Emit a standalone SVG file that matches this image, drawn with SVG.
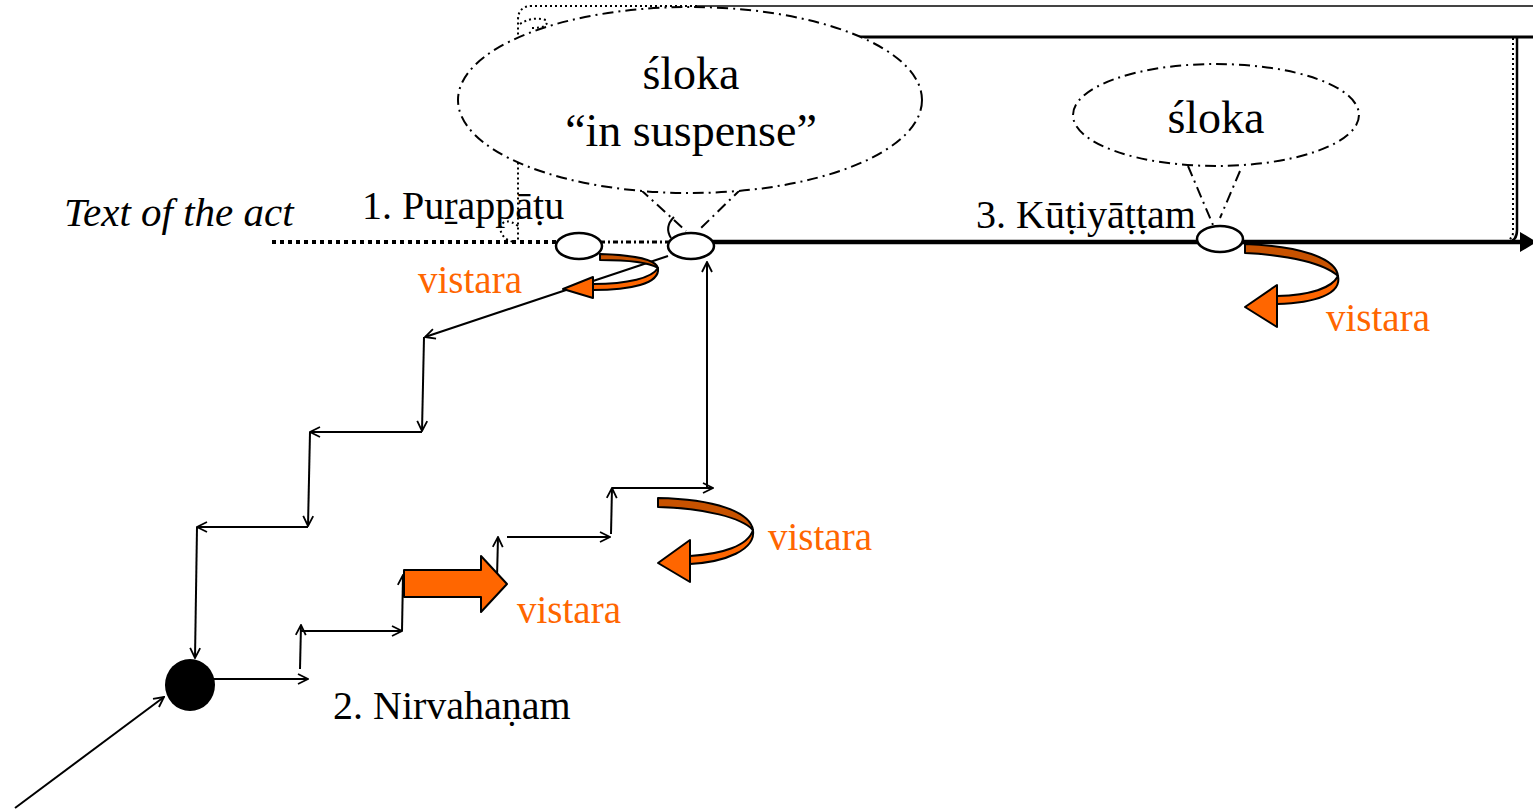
<svg xmlns="http://www.w3.org/2000/svg" width="1533" height="811" viewBox="0 0 1533 811">
<defs>
<marker id="arr" viewBox="0 0 12 12" refX="11" refY="6" markerWidth="12" markerHeight="12" markerUnits="userSpaceOnUse" orient="auto">
<path d="M1,1 L11,6 L1,11" fill="none" stroke="#000" stroke-width="1.8"/>
</marker>
</defs>
<style>
.t{font-family:"Liberation Serif","Times New Roman",serif;fill:#000}
.v{font-family:"Liberation Serif","Times New Roman",serif;fill:#FF6600;font-size:39px}
.c{fill:none;stroke:#000;stroke-width:2;marker-end:url(#arr)}
.bub{fill:#fff;stroke:#000;stroke-width:2;stroke-dasharray:11 5 2 5}
.node{fill:#fff;stroke:#000;stroke-width:2.5}
.dk{fill:#C85200;stroke:#000;stroke-width:2;stroke-linejoin:round}
.lt{fill:#FF6600;stroke:#000;stroke-width:2;stroke-linejoin:round}
.dot{fill:none;stroke:#000;stroke-width:2;stroke-dasharray:2 3}
</style>
<rect width="1533" height="811" fill="#fff"/>

<g id="frame">
<line x1="697" y1="6" x2="1533" y2="6" stroke="#444" stroke-width="2"/>
<line x1="858" y1="37" x2="1533" y2="37" stroke="#000" stroke-width="3"/>
<path d="M1517,37 V230 Q1517,241 1508,242" fill="none" stroke="#000" stroke-width="2.5"/>
<path d="M1513,38 V232 Q1513,238 1508,240" class="dot"/>
<path d="M697,6 H532 Q518,6 518,20 V240" class="dot"/>
<path d="M520,24 Q532,16 546,20 Q550,28 532,28" class="dot"/>
<path d="M518,226 Q504,216 500,228 Q502,240 514,242" class="dot"/>
</g>

<g id="timeline">
<line x1="272" y1="242" x2="558" y2="242" stroke="#000" stroke-width="4" stroke-dasharray="4 4"/>
<line x1="600" y1="242" x2="670" y2="242" stroke="#000" stroke-width="3" stroke-dasharray="5 3 2 3"/>
<line x1="712" y1="242" x2="1522" y2="242" stroke="#000" stroke-width="4.5"/>
<path d="M1520,232 L1537,242 L1520,252 Z" fill="#000"/>
</g>

<g id="bubble-suspense">
<path d="M640,189 L686,231 M742,188 L700,229" class="bub" fill="none"/>
<ellipse cx="690" cy="100" rx="232" ry="93" class="bub"/>
<text class="t" x="691" y="89" font-size="46" text-anchor="middle">śloka</text>
<text class="t" x="691" y="146" font-size="46" text-anchor="middle">“in suspense”</text>
<path d="M674,217 Q664,227 671,238" fill="none" stroke="#000" stroke-width="2"/>
</g>

<g id="bubble-sloka">
<path d="M1188,166 L1213,225 M1240,171 L1220,218" class="bub" fill="none"/>
<ellipse cx="1216" cy="115" rx="143" ry="51" class="bub"/>
<text class="t" x="1216" y="133" font-size="46" text-anchor="middle">śloka</text>
</g>

<g id="connectors">
<line x1="668" y1="256" x2="425" y2="337" class="c"/>
<line x1="424" y1="337" x2="422" y2="431" class="c"/>
<line x1="422" y1="432" x2="310" y2="432" class="c"/>
<line x1="310" y1="432" x2="308" y2="526" class="c"/>
<line x1="308" y1="527" x2="197" y2="527" class="c"/>
<line x1="197" y1="527" x2="195" y2="658" class="c"/>
<line x1="15" y1="808" x2="164" y2="697" class="c"/>
<line x1="214" y1="679" x2="308" y2="679" class="c"/>
<line x1="300" y1="669" x2="301" y2="625" class="c"/>
<line x1="300" y1="631" x2="402" y2="631" class="c"/>
<line x1="402" y1="631" x2="403" y2="575" class="c"/>
<line x1="497" y1="578" x2="498" y2="537" class="c"/>
<line x1="507" y1="537" x2="610" y2="537" class="c"/>
<line x1="611" y1="534" x2="612" y2="488" class="c"/>
<line x1="612" y1="488" x2="713" y2="488" class="c"/>
<line x1="707" y1="489" x2="707" y2="262" class="c"/>
</g>

<g id="node-1">
<ellipse cx="579" cy="246" rx="23" ry="13" class="node"/>
<text class="t" x="362" y="219" font-size="40">1. Puṟappāṭu</text>
</g>
<g id="node-2">
<ellipse cx="691" cy="246" rx="23" ry="13" class="node"/>
</g>
<g id="node-3">
<ellipse cx="1220" cy="239" rx="23" ry="13" class="node"/>
<text class="t" x="976" y="228" font-size="40">3. Kūṭiyāṭṭam</text>
</g>
<g id="node-start">
<ellipse cx="190" cy="685" rx="25" ry="26" fill="#000"/>
<text class="t" x="333" y="719" font-size="40">2. Nirvahaṇam</text>
</g>

<g id="label-text">
<text class="t" x="64" y="226" font-size="41" font-style="italic">Text of the act</text>
</g>

<g id="vistara-1">
<path class="dk" d="M600,254 C635,255 656,260 658,268 C650,263 630,260 600,260 Z"/>
<path class="lt" d="M658,268 C660,284 630,290 593,290 L593,284 C628,284 652,278 658,268 Z"/>
<path class="lt" d="M563,289 L593,277 L593,298 Z"/>
<text class="v" x="418" y="293">vistara</text>
</g>

<g id="vistara-3">
<path class="dk" d="M1245,244 C1300,246 1336,258 1338,276 C1325,264 1290,255 1245,253 Z"/>
<path class="lt" d="M1338,276 C1342,294 1315,303 1277,304 L1277,296 C1310,295 1332,288 1338,276 Z"/>
<path class="lt" d="M1245,307 L1277,285 L1277,327 Z"/>
<text class="v" x="1326" y="331">vistara</text>
</g>

<g id="vistara-2">
<path class="dk" d="M658,498 C715,499 750,512 753,530 C742,518 705,508 658,507 Z"/>
<path class="lt" d="M753,530 C756,550 725,562 690,564 L690,556 C722,554 748,546 753,530 Z"/>
<path class="lt" d="M658,563 L690,540 L690,582 Z"/>
<text class="v" x="768" y="550">vistara</text>
</g>

<g id="vistara-block">
<path class="lt" d="M404,570 H481 V556 L507,584 L481,612 V597 H404 Z"/>
<text class="v" x="517" y="623">vistara</text>
</g>
</svg>
